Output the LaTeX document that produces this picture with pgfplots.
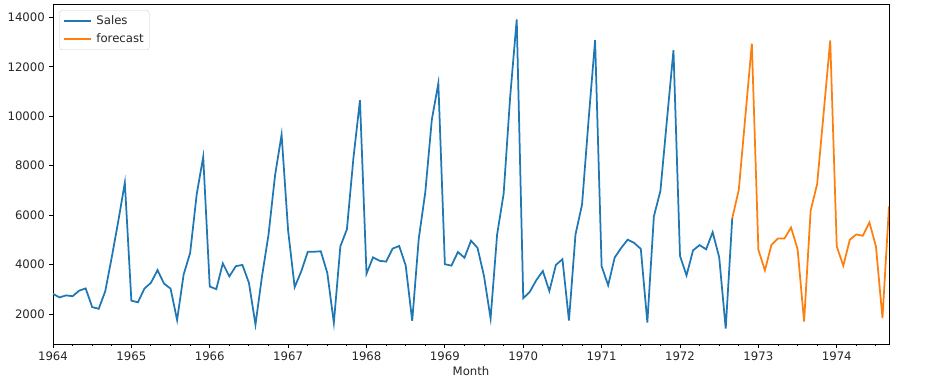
\documentclass[border=0pt]{standalone}
\usepackage{fontspec}
\setmainfont{DejaVu Sans}
\usepackage{pgfplots}
\pgfplotsset{compat=1.18}
\definecolor{mplblue}{HTML}{1F77B4}
\definecolor{mplorange}{HTML}{FF7F0E}
\begin{document}
\fontsize{11.7bp}{14bp}\selectfont
\begin{tikzpicture}
\path[use as bounding box] (-53bp,-42bp) rectangle (875bp,344bp);
\begin{axis}[
  at={(0,0)}, anchor=south west,
  scale only axis, width=836bp, height=340bp,
  xmin=0, xmax=128, ymin=788, ymax=14541,
  scaled y ticks=false,
  axis line style={black, line width=0.95bp},
  tick align=outside, xtick pos=bottom, ytick pos=left,
  major tick length=4.1bp, minor tick length=2.3bp,
  every tick/.style={black, line width=0.95bp},
  xtick={0,12,...,120},
  xticklabels={1964,1965,1966,1967,1968,1969,1970,1971,1972,1973,1974},
  minor xtick={0,3,...,128},
  ytick={2000,4000,...,14000},
  yticklabels={2000,4000,6000,8000,10000,12000,14000},
  tick label style={font=\fontsize{11.7bp}{14bp}\selectfont, text=black!85},
  label style={font=\fontsize{11.7bp}{14bp}\selectfont, text=black!85},
  xlabel={Month},
  xlabel style={yshift=2bp},
  legend style={at={(0,1)}, anchor=north west, xshift=6.3bp, yshift=-6.3bp,
    draw=black!20, rounded corners=2.5bp, fill=white,
    font=\fontsize{11.7bp}{14bp}\selectfont, text=black!85,
    inner sep=3.5bp, row sep=3bp, column sep=3bp},
  legend cell align=left,
  legend image code/.code={\draw[#1, line width=1.75bp] (0bp,0bp) -- (26.7bp,0bp);},
]
\addplot[mplblue, line width=1.75bp] coordinates {
(0,2815)(1,2672)(2,2755)(3,2721)(4,2946)(5,3036)(6,2282)(7,2212)(8,2922)(9,4301)(10,5764)(11,7312)
(12,2541)(13,2475)(14,3031)(15,3266)(16,3776)(17,3230)(18,3028)(19,1759)(20,3595)(21,4474)(22,6838)(23,8357)
(24,3113)(25,3006)(26,4047)(27,3523)(28,3937)(29,3986)(30,3260)(31,1573)(32,3528)(33,5211)(34,7614)(35,9254)
(36,5375)(37,3088)(38,3718)(39,4514)(40,4520)(41,4539)(42,3663)(43,1643)(44,4739)(45,5428)(46,8314)(47,10651)
(48,3633)(49,4292)(50,4154)(51,4121)(52,4647)(53,4753)(54,3965)(55,1723)(56,5048)(57,6922)(58,9858)(59,11331)
(60,4016)(61,3957)(62,4510)(63,4276)(64,4968)(65,4677)(66,3523)(67,1821)(68,5222)(69,6872)(70,10803)(71,13916)
(72,2639)(73,2899)(74,3370)(75,3740)(76,2927)(77,3986)(78,4217)(79,1738)(80,5221)(81,6424)(82,9842)(83,13076)
(84,3934)(85,3162)(86,4286)(87,4676)(88,5010)(89,4874)(90,4633)(91,1659)(92,5951)(93,6981)(94,9851)(95,12670)
(96,4348)(97,3564)(98,4577)(99,4788)(100,4618)(101,5312)(102,4298)(103,1413)(104,5877)
};
\addlegendentry{Sales}
\addplot[mplorange, line width=1.75bp] coordinates {
(104,5877)(105,7020)(106,9980)(107,12940)(108,4600)(109,3765)(110,4800)(111,5058)(112,5060)(113,5500)(114,4630)(115,1700)
(116,6180)(117,7260)(118,10150)(119,13070)(120,4735)(121,3954)(122,5006)(123,5220)(124,5167)(125,5706)(126,4735)(127,1838)(128,6353)
};
\addlegendentry{forecast}
\end{axis}
\end{tikzpicture}
\end{document}
